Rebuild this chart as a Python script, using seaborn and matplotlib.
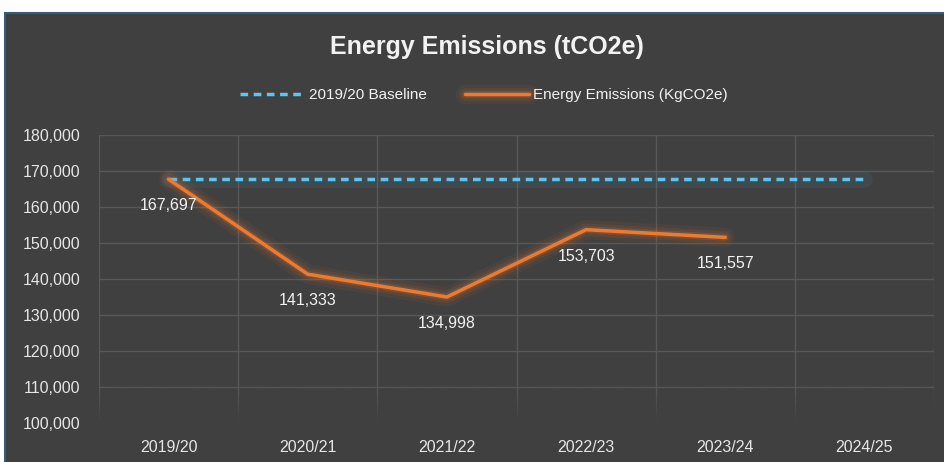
import matplotlib
matplotlib.use("Agg")
import matplotlib.pyplot as plt
import matplotlib.patheffects as pe
from matplotlib.patches import Rectangle
from matplotlib.colors import to_rgb
import numpy as np
import seaborn as sns
import pandas as pd

# Data
years = ['2019/20', '2020/21', '2021/22', '2022/23', '2023/24', '2024/25']
emissions = [167697, 141333, 134998, 153703, 151557, None]
baseline = [167697, 167697, 167697, 167697, 167697, 167697]
y_ticks = [100000, 110000, 120000, 130000, 140000, 150000, 160000, 170000, 180000]

bg = '#404040'
grid_col = '#585858'
orange = '#EE7A30'
blue = '#5CC6EE'

sns.set_theme(style='dark')
plt.rcParams['font.family'] = ['Liberation Sans', 'DejaVu Sans']
narrow = ['Liberation Sans Narrow', 'Liberation Sans', 'DejaVu Sans']

df = pd.DataFrame({'Year': years, 'Emissions': emissions, 'Baseline': baseline})
df['x'] = range(len(years))

fig = plt.figure(figsize=(9.44, 4.62), dpi=100)
fig.patch.set_facecolor('white')
# dark chart panel with thin border
fig.patches.append(Rectangle((5 / 944, -0.01), 1, 1.01 - 13 / 462, transform=fig.transFigure,
                             facecolor=bg, edgecolor='#2F5F7A', linewidth=1.5, zorder=-5))

ax = fig.add_axes([99 / 944, 39 / 462, (934 - 99) / 944, (327 - 39) / 462])
ax.set_zorder(2)
ax.set_facecolor(bg)

glow_o = [pe.Stroke(linewidth=14, foreground=orange, alpha=0.06),
          pe.Stroke(linewidth=9, foreground=orange, alpha=0.10),
          pe.Stroke(linewidth=5, foreground=orange, alpha=0.18),
          pe.Normal()]

# soft glow under the dashed baseline
sns.lineplot(data=df, x='x', y='Baseline', ax=ax, color=blue, linewidth=12, alpha=0.07,
             legend=False)
sns.lineplot(data=df, x='x', y='Baseline', ax=ax, color=blue, linewidth=2.5,
             linestyle=(0, (2.2, 1.6)), label='2019/20 Baseline')
sns.lineplot(data=df.dropna(), x='x', y='Emissions', ax=ax, color=orange, linewidth=2.5,
             label='Energy Emissions (KgCO2e)', path_effects=glow_o)

for xi, v in zip(df['x'], emissions):
    if v is None or v != v:
        continue
    ax.annotate(f'{int(v):,}', (xi, v), xytext=(0, -19), textcoords='offset points',
                ha='center', va='center', color='#F2F2F2', fontsize=11.5)

ax.set_xlim(-0.5, len(years) - 0.5)
ax.set_ylim(100000, 180000)
ax.set_xticks(range(len(years)))
ax.set_xticklabels(years)
ax.set_xticks([i - 0.5 for i in range(len(years) + 1)], minor=True)
ax.set_yticks(y_ticks)
ax.set_yticklabels([f'{t:,}' for t in y_ticks])
ax.tick_params(axis='both', which='both', length=0, colors='#E6E6E6', labelsize=11.5)
ax.tick_params(axis='y', pad=13.5)
ax.tick_params(axis='x', pad=12.5)
ax.grid(axis='y', which='major', color=grid_col, linewidth=1)
ax.grid(axis='x', which='minor', color=grid_col, linewidth=1)
ax.grid(axis='x', which='major', visible=False)
for s in ax.spines.values():
    s.set_visible(False)
ax.set_xlabel('')
ax.set_ylabel('')

# grid fades out toward the bottom of the plot area
fade = np.zeros((64, 2, 4))
fade[..., :3] = to_rgb(bg)
fade[..., 3] = np.clip(np.linspace(1.0, -0.3, 64), 0, 1)[:, None]
ax.imshow(fade, extent=(-0.5, len(years) - 0.5, 100000, 113000), origin='lower',
          aspect='auto', zorder=1.5, interpolation='bilinear')
ax.set_xlim(-0.5, len(years) - 0.5)
ax.set_ylim(100000, 180000)

fig.text(487 / 944, 1 - 47 / 462, 'Energy Emissions (tCO2e)', ha='center', va='center',
         color='#F2F2F2', fontsize=18, fontweight='bold', family=narrow, zorder=3)

leg = ax.legend(loc='center', bbox_to_anchor=(484 / 944, 1 - 95 / 462), bbox_transform=fig.transFigure,
                ncol=2, frameon=False, prop={'family': narrow, 'size': 11},
                handlelength=4.2, columnspacing=2.5, handletextpad=0.3)
for t in leg.get_texts():
    t.set_color('#F2F2F2')

fig.savefig('out.png', dpi=100, facecolor=fig.get_facecolor())
